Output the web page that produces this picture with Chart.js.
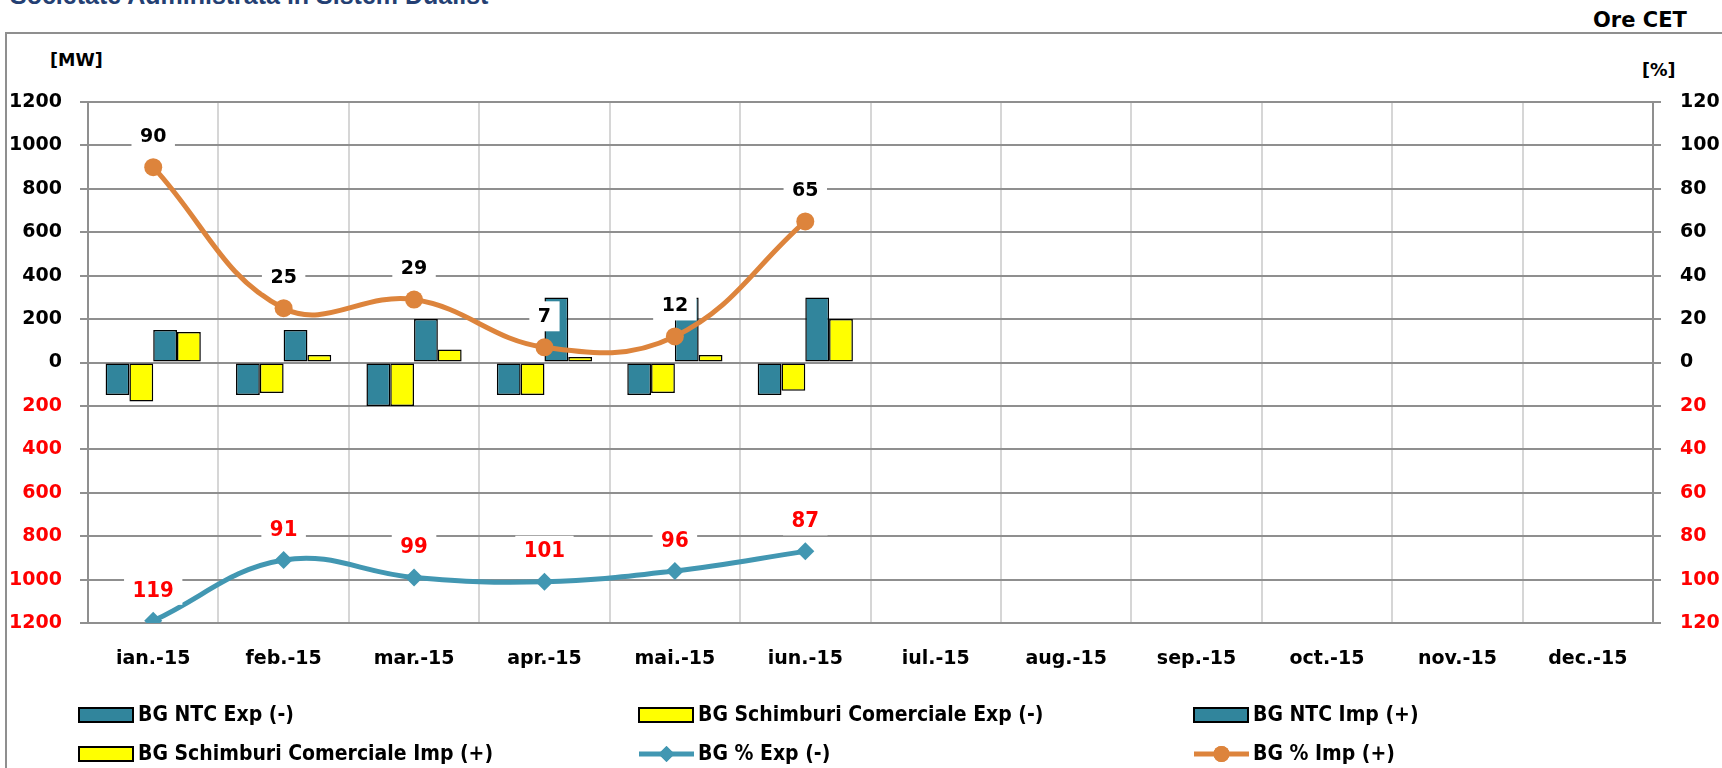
<!DOCTYPE html>
<html>
<head>
<meta charset="utf-8">
<script src="https://cdn.jsdelivr.net/npm/chart.js@4/dist/chart.umd.min.js"></script>
<style>
  body { margin: 0; width: 1722px; height: 768px; overflow: hidden; background: #fff; position: relative; }
  #frame { position: absolute; left: 5px; top: 32px; width: 1760px; height: 800px; border: 2px solid #8f8f8f; box-sizing: border-box; }
  canvas { position: absolute; left: 0; top: 0; }
  .txt { position: absolute; font-family: 'DejaVu Sans', sans-serif; font-weight: bold; color: #000; white-space: nowrap; }
  #title { left: 10px; top: -17px; font-family: 'Liberation Sans', Arial, sans-serif; font-size: 25px; line-height: 25px; color: #243f73; }
</style>
</head>
<body>
<div id="title" class="txt">Societate Administrata in Sistem Dualist</div>
<div class="txt" style="left:1593px; top:8px; font-size:21px; line-height:24px;">Ore CET</div>
<div id="frame"></div>
<div class="txt" style="left:50px; top:49px; font-size:17.5px; line-height:22px;">[MW]</div>
<div class="txt" style="left:1642px; top:59px; font-size:17.5px; line-height:22px;">[%]</div>
<canvas id="bgChart" width="1722" height="768"></canvas>
<script>
const months = ['ian.-15', 'feb.-15', 'mar.-15', 'apr.-15', 'mai.-15', 'iun.-15',
                'iul.-15', 'aug.-15', 'sep.-15', 'oct.-15', 'nov.-15', 'dec.-15'];

// MW values (export shown below zero)
const ntcExp = [-150, -150, -200, -150, -150, -150];
const schExp = [-180, -140, -200, -150, -140, -130];
const ntcImp = [150, 150, 200, 300, 300, 300];
const schImp = [140, 35, 60, 25, 35, 200];

// percentages (right axis)
const pctExp = [-119, -91, -99, -101, -96, -87];
const pctImp = [90, 25, 29, 7, 12, 65];

// axis ranges and steps
const mwRange = [-1200, 1200];
const mwStep = 200;
const pctRange = [-120, 120];
const pctStep = 20;

const TEAL = '#31859C';
const YELLOW = '#FFFF00';
const ORANGE = '#DD843C';
const TEAL_LINE = '#4297B2';

// value labels with white box above each point
const valueLabels = {
    id: 'valueLabels',
    afterDatasetsDraw(chart) {
        const ctx = chart.ctx;
        chart.data.datasets.forEach((ds, i) => {
            if (!ds.labelFont) return;
            const meta = chart.getDatasetMeta(i);
            ctx.save();
            ctx.font = ds.labelFont;
            ctx.textAlign = 'center';
            ctx.textBaseline = 'middle';
            meta.data.forEach((pt, j) => {
                const text = String(Math.abs(ds.data[j]));
                const w = ctx.measureText(text).width + 17;
                const y = pt.y - 31;
                ctx.fillStyle = '#fff';
                ctx.fillRect(pt.x - w / 2, y - 15, w, 30);
                ctx.fillStyle = ds.labelColor;
                ctx.fillText(text, pt.x, y + 1);
            });
            ctx.restore();
        });
    }
};

// legend laid out in 3 fixed columns like the original
const gridLegend = {
    id: 'gridLegend',
    afterDraw(chart, args, opts) {
        const ctx = chart.ctx;
        ctx.save();
        ctx.font = opts.font;
        ctx.textBaseline = 'middle';
        chart.data.datasets.forEach((ds, i) => {
            const x = opts.cols[i % 3];
            const y = opts.rows[Math.floor(i / 3)];
            if (ds.type === 'line') {
                ctx.strokeStyle = ds.borderColor;
                ctx.lineWidth = 5;
                ctx.beginPath();
                ctx.moveTo(x, y);
                ctx.lineTo(x + 55, y);
                ctx.stroke();
                ctx.fillStyle = ds.borderColor;
                Chart.helpers.drawPoint(ctx, { pointStyle: ds.pointStyle, radius: 8, borderWidth: 0 }, x + 27.5, y);
                ctx.fill();
            } else {
                ctx.fillStyle = ds.backgroundColor;
                ctx.strokeStyle = '#000';
                ctx.lineWidth = 2;
                ctx.fillRect(x, y - 7, 54, 14);
                ctx.strokeRect(x, y - 7, 54, 14);
            }
            ctx.fillStyle = '#000';
            ctx.fillText(ds.label, x + 59, y + 1);
        });
        ctx.restore();
    }
};

const tickColor = c => (c.tick && c.tick.value < 0) ? '#FF0000' : '#000000';
const tickFont = { family: 'DejaVu Sans', size: 19, weight: 'bold' };

const barBase = { borderColor: '#000', borderWidth: 1.5, borderSkipped: false,
                  barPercentage: 1.0, categoryPercentage: 0.73, order: 2, yAxisID: 'y' };

new Chart(document.getElementById('bgChart'), {
    type: 'bar',
    data: {
        labels: months,
        datasets: [
            { ...barBase, label: 'BG NTC Exp (-)', data: ntcExp, backgroundColor: TEAL },
            { ...barBase, label: 'BG Schimburi Comerciale Exp (-)', data: schExp, backgroundColor: YELLOW },
            { ...barBase, label: 'BG NTC Imp (+)', data: ntcImp, backgroundColor: TEAL },
            { ...barBase, label: 'BG Schimburi Comerciale Imp (+)', data: schImp, backgroundColor: YELLOW },
            {
                type: 'line', label: 'BG % Exp (-)', data: pctExp, yAxisID: 'y1', order: 0,
                borderColor: TEAL_LINE, backgroundColor: TEAL_LINE, borderWidth: 5, tension: 0.4,
                pointStyle: 'rectRot', pointRadius: 9, pointBackgroundColor: TEAL_LINE, pointBorderWidth: 0,
                labelFont: 'bold 22px "DejaVu Sans Condensed", "DejaVu Sans"', labelColor: '#FF0000'
            },
            {
                type: 'line', label: 'BG % Imp (+)', data: pctImp, yAxisID: 'y1', order: 0,
                borderColor: ORANGE, backgroundColor: ORANGE, borderWidth: 5, tension: 0.4,
                pointStyle: 'circle', pointRadius: 9, pointBackgroundColor: ORANGE, pointBorderWidth: 0,
                labelFont: 'bold 19px "DejaVu Sans"', labelColor: '#000000'
            }
        ]
    },
    options: {
        responsive: false,
        animation: false,
        layout: { padding: { top: 102, left: 0, right: 0, bottom: 0 } },
        plugins: {
            legend: { display: false },
            tooltip: { enabled: false },
            gridLegend: {
                cols: [79, 639, 1194],
                rows: [715, 754],
                font: 'bold 21px "DejaVu Sans Condensed", "DejaVu Sans"'
            }
        },
        scales: {
            x: {
                afterFit: s => { s.height = 145; },
                grid: { color: '#d6d6d6', lineWidth: 2, drawTicks: false },
                border: { color: '#8f8f8f', width: 2 },
                ticks: { color: '#000', font: tickFont, padding: 25, maxRotation: 0 }
            },
            y: {
                position: 'left',
                min: mwRange[0], max: mwRange[1],
                afterFit: s => { s.width = 88; },
                grid: { color: '#8f8f8f', lineWidth: 2, tickLength: 8 },
                border: { color: '#8f8f8f', width: 2 },
                ticks: { stepSize: mwStep, color: tickColor, font: tickFont, padding: 18,
                         callback: v => Math.abs(v) }
            },
            y1: {
                position: 'right',
                min: pctRange[0], max: pctRange[1],
                afterFit: s => { s.width = 69; },
                grid: { drawOnChartArea: false, color: '#8f8f8f', lineWidth: 2, tickLength: 8 },
                border: { color: '#8f8f8f', width: 2 },
                ticks: { stepSize: pctStep, color: tickColor, font: tickFont, padding: 19,
                         callback: v => Math.abs(v) }
            }
        }
    },
    plugins: [valueLabels, gridLegend]
});
</script>
</body>
</html>
